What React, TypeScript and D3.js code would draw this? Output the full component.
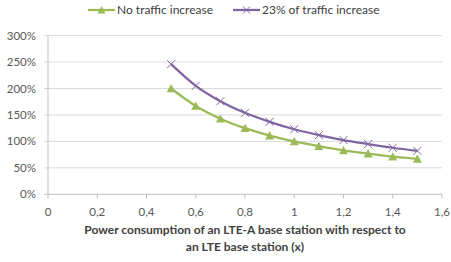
import React from "react";
import * as d3 from "d3";

const xValues = [0.5, 0.6, 0.7, 0.8, 0.9, 1.0, 1.1, 1.2, 1.3, 1.4, 1.5];
const noIncrease = [200, 167, 143, 125, 111, 100, 91, 83, 77, 71, 67];
const increase23 = [246, 205, 176, 154, 137, 123, 112, 102.5, 95, 88, 82];
const xTicks = [0, 0.2, 0.4, 0.6, 0.8, 1, 1.2, 1.4, 1.6];
const yTicks = [0, 50, 100, 150, 200, 250, 300];
const seriesNames = ["No traffic increase", "23% of traffic increase"];

const GREEN = "#9bbb59";
const PURPLE = "#8064a2";
const FONT = "Lato, 'Open Sans', sans-serif";

export default function App() {
  const W = 451, H = 262;
  const x = d3.scaleLinear().domain([0, 1.6]).range([48, 442]);
  const y = d3.scaleLinear().domain([0, 300]).range([194.3, 35.6]);
  const line = d3.line<number>().x((_, i) => x(xValues[i])).y((d) => y(d)).curve(d3.curveMonotoneX);
  const fmtX = (v: number) => String(v).replace(".", ",");

  const tri = (cx: number, cy: number, s = 4.5) =>
    `M${cx},${cy - s} L${cx + s},${cy + s * 0.85} L${cx - s},${cy + s * 0.85} Z`;
  const cross = (cx: number, cy: number, s = 4) =>
    `M${cx - s},${cy - s} L${cx + s},${cy + s} M${cx - s},${cy + s} L${cx + s},${cy - s}`;

  return (
    <svg width={W} height={H} style={{ position: "absolute", left: 0, top: 0, background: "#fff" }}>
      {yTicks.map((t) => (
        <g key={t}>
          <line x1={44} x2={442} y1={y(t)} y2={y(t)} stroke={t === 0 ? "#bfbfbf" : "#d9d9d9"} strokeWidth={1} />
          <text x={36} y={y(t)} dy="0.35em" textAnchor="end" fontFamily={FONT} fontSize={11.5} fill="#595959">
            {t}%
          </text>
        </g>
      ))}
      <line x1={48} x2={48} y1={y(300)} y2={y(0)} stroke="#bfbfbf" />
      {xTicks.map((t) => (
        <g key={t}>
          <line x1={x(t)} x2={x(t)} y1={y(0)} y2={y(0) + 4} stroke="#bfbfbf" />
          <text x={x(t)} y={212} dy="0.35em" textAnchor="middle" fontFamily={FONT} fontSize={11.5} fill="#595959">
            {fmtX(t)}
          </text>
        </g>
      ))}
      <path d={line(increase23) || ""} fill="none" stroke={PURPLE} strokeWidth={2.25} />
      {increase23.map((v, i) => (
        <path key={i} d={cross(x(xValues[i]), y(v))} stroke={PURPLE} strokeWidth={1} fill="none" />
      ))}
      <path d={line(noIncrease) || ""} fill="none" stroke={GREEN} strokeWidth={2.25} />
      {noIncrease.map((v, i) => (
        <path key={i} d={tri(x(xValues[i]), y(v))} fill={GREEN} />
      ))}
      {/* legend */}
      <line x1={88} x2={115} y1={10} y2={10} stroke={GREEN} strokeWidth={2.25} />
      <path d={tri(101.5, 10, 4)} fill={GREEN} />
      <text x={117} y={10} dy="0.35em" fontFamily={FONT} fontSize={12} fill="#404040">{seriesNames[0]}</text>
      <line x1={233} x2={260} y1={10} y2={10} stroke={PURPLE} strokeWidth={2.25} />
      <path d={cross(246.5, 10, 3.5)} stroke={PURPLE} strokeWidth={1} fill="none" />
      <text x={262} y={10} dy="0.35em" fontFamily={FONT} fontSize={12} fill="#404040">{seriesNames[1]}</text>
      {/* axis title */}
      <text x={245} y={230} dy="0.35em" textAnchor="middle" fontFamily={FONT} fontSize={12} fontWeight="bold" fill="#404040">
        Power consumption  of an LTE-A base station with respect to
      </text>
      <text x={245} y={247} dy="0.35em" textAnchor="middle" fontFamily={FONT} fontSize={12} fontWeight="bold" fill="#404040">
        an LTE base station (x)
      </text>
    </svg>
  );
}
